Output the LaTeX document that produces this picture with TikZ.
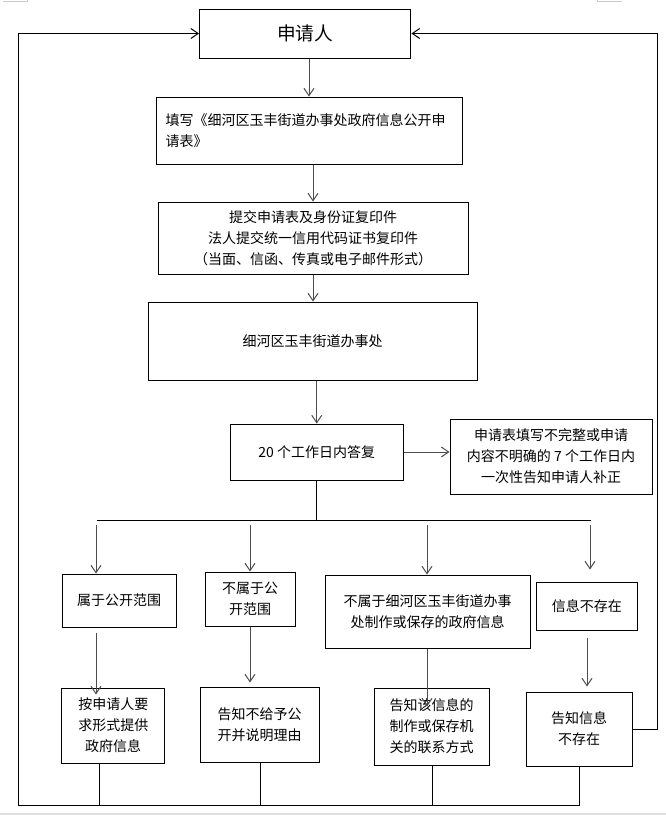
\documentclass[tikz,border=0pt]{standalone}
\usepackage{fontspec}
\setmainfont{Noto Sans CJK SC}
\usetikzlibrary{arrows.meta}

\begin{document}
\begin{tikzpicture}[x=0.75pt,y=-0.75pt,line width=0.75pt,
		box/.style={draw,inner sep=0pt,align=center,font=\fontsize{10.5}{15.75}\selectfont},
		arr/.style={draw=black!70,-{Straight Barb[length=5.5pt,width=7.5pt]}}]
		\useasboundingbox (0,0) rectangle (666,815);
		
		\draw[gray!40] (3,1.5) -- (27,1.5) -- (27,0);
		\draw[gray!40] (622,1.5) -- (597,1.5) -- (597,0);
		\draw[gray!25,line width=1.5pt] (0,813.5) -- (666,813.5);
		
		\node[box,minimum width=158.6pt,minimum height=36.75pt,font=\fontsize{14}{18}\selectfont] (app) at (305.25,33.5) {申请人};
		\node[box,minimum width=229.5pt,minimum height=50.25pt,text width=215pt,align=left] (form) at (309,130.5) {填写《细河区玉丰街道办事处政府信息公开申\\请表》};
		\node[box,minimum width=232.5pt,minimum height=54pt] (submit) at (313,238) {提交申请表及身份证复印件\\法人提交统一信用代码证书复印件\\（当面、信函、传真或电子邮件形式）};
		\node[box,minimum width=246.75pt,minimum height=58.5pt] (office) at (312.5,341) {细河区玉丰街道办事处};
		\node[box,minimum width=129.4pt,minimum height=42pt] (reply) at (316.75,452) {20 个工作日内答复};
		\node[box,minimum width=151.5pt,minimum height=56.25pt] (notice) at (551,456.5) {申请表填写不完整或申请\\内容不明确的 7 个工作日内\\一次性告知申请人补正};
		
		\node[box,minimum width=85.2pt,minimum height=39.75pt] (inscope) at (119.2,600.5) {属于公开范围};
		\node[box,minimum width=67.5pt,minimum height=40.5pt] (notscope) at (250,599) {不属于公\\开范围};
		\node[box,minimum width=153.75pt,minimum height=54.75pt] (notours) at (427.5,611.5) {不属于细河区玉丰街道办事\\处制作或保存的政府信息};
		\node[box,minimum width=76.1pt,minimum height=36pt] (noinfo) at (586.75,606) {信息不存在};
		
		\node[box,minimum width=77.6pt,minimum height=56.25pt] (provide) at (113.25,725.5) {按申请人要\\求形式提供\\政府信息};
		\node[box,minimum width=89.25pt,minimum height=56.25pt] (refuse) at (259.5,724.5) {告知不给予公\\开并说明理由};
		\node[box,minimum width=86.25pt,minimum height=57.75pt] (contact) at (431.5,726.5) {告知该信息的\\制作或保存机\\关的联系方式};
		\node[box,minimum width=79.5pt,minimum height=55.5pt] (tellno) at (579,729) {告知信息\\不存在};
		
		\draw[arr] (app.south -| form.north) -- (form.north);
		\draw[arr] (form.south -| submit.north) -- (submit.north);
		\draw[arr] (submit.south) -- (submit.south |- office.north);
		\draw[arr] (office.south -| reply.north) -- (reply.north);
		\draw[arr] (reply.east) -- (reply.east -| notice.west);
		
		\coordinate (barL) at (97,520);
		\coordinate (barR) at (591,520);
		\draw (reply.south) -- (reply.south |- barL);
		\draw (barL) -- (barR);
		\foreach \x/\n in {96/inscope,250/notscope,427/notours}
			\draw[arr] ([yshift=-3.75pt]\x,0 |- barL) -- (\x,0 |- \n.north);
		\draw[arr] ([yshift=-3.75pt]590,0 |- barL) -- ([yshift=9pt]590,0 |- noinfo.north);
		
		\draw[arr] ([yshift=-3.75pt]96,0 |- inscope.south) -- ([yshift=-5.25pt]96,0 |- provide.north);
		\draw[arr] (250,0 |- notscope.south) -- ([yshift=3pt]250,0 |- refuse.north);
		\draw[arr] (427,0 |- notours.south) -- ([yshift=-14.25pt]427,0 |- contact.north);
		\draw[arr] ([yshift=-5.25pt]587,0 |- noinfo.south) -- ([yshift=3.75pt]587,0 |- tellno.north);
		
		\coordinate (loopL) at (18,805);
		\coordinate (loopR) at (657,0 |- app.east);
		\foreach \x/\n in {99/provide,260/refuse,432/contact}
			\draw (\x,0 |- \n.south) -- (\x,0 |- loopL);
		\draw[arr,draw=black] (tellno.south) |- (loopL) |- (app.west);
		\draw[arr,draw=black] (tellno.east) -| (loopR) -- (app.east);
	\end{tikzpicture}
\end{document}
